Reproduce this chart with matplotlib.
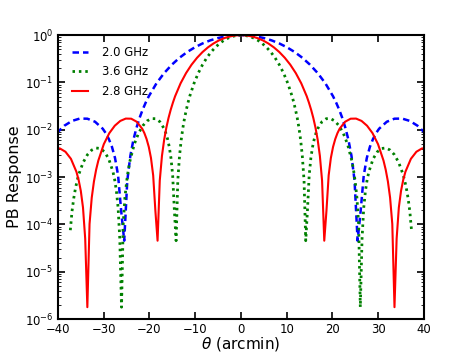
import numpy as np
import matplotlib
matplotlib.use("Agg")
import matplotlib.pyplot as plt
from matplotlib.ticker import LogLocator, NullFormatter, FixedLocator

# ---- data (theta >= 0 half; the curves are symmetric) ----
theta_2p8 = [0.0, 1.20, 2.40, 3.60, 4.80, 5.99, 7.19, 8.39, 9.59, 10.79, 11.99,
             13.19, 14.39, 14.86, 15.34, 15.82, 16.30, 16.78, 17.26, 17.74,
             18.22, 18.70, 19.18, 19.66, 20.14, 20.62, 21.10, 21.58, 22.78,
             23.98, 25.17, 26.37, 27.57, 28.77, 29.97, 31.17, 31.65, 32.13,
             32.61, 33.09, 33.57, 34.04, 34.52, 35.00, 35.48, 35.96, 37.16,
             38.36, 39.56, 40.76]
resp_2p8 = [1.0, 0.9844, 0.9391, 0.8673, 0.7748, 0.6674, 0.5534, 0.4397, 0.3326,
            0.2376, 0.1581, 0.09599, 0.05109, 0.03769, 0.02668, 0.01788,
            0.01111, 0.006163, 0.002813, 0.0008467, 4.54e-5, 0.0001956,
            0.001090, 0.002537, 0.004353, 0.006372, 0.008498, 0.01055,
            0.01481, 0.01717, 0.01727, 0.01541, 0.01221, 0.008507, 0.004979,
            0.002239, 0.001436, 0.0008104, 0.0003680, 0.0001024, 1.79e-6,
            5.02e-5, 0.0002276, 0.0005114, 0.0008763, 0.001300, 0.002440,
            0.003440, 0.004034, 0.004129]

theta_2p0 = [0.0, 1.68, 3.36, 5.03, 6.71, 8.39, 10.07, 11.75, 13.43, 15.10,
             16.78, 18.46, 20.14, 20.81, 21.48, 22.15, 22.82, 23.50, 24.17,
             24.84, 25.51, 26.18, 26.85, 27.52, 28.19, 28.87, 29.54, 30.21,
             31.89, 33.57, 35.24, 36.92, 38.60, 40.28]
resp_2p0 = [1.0, 0.9844, 0.9391, 0.8673, 0.7748, 0.6674, 0.5534, 0.4397, 0.3326,
            0.2376, 0.1581, 0.09599, 0.05109, 0.03769, 0.02668, 0.01788,
            0.01111, 0.006163, 0.002813, 0.0008467, 4.54e-5, 0.0001956,
            0.001090, 0.002537, 0.004353, 0.006372, 0.008498, 0.01055,
            0.01481, 0.01717, 0.01727, 0.01541, 0.01221, 0.008507]

theta_3p6 = [0.0, 0.93, 1.86, 2.80, 3.73, 4.66, 5.59, 6.53, 7.46, 8.39, 9.32,
             10.25, 11.19, 11.56, 11.93, 12.31, 12.68, 13.05, 13.42, 13.80,
             14.17, 14.54, 14.92, 15.29, 15.66, 16.03, 16.41, 16.78, 17.71,
             18.65, 19.58, 20.51, 21.44, 22.37, 23.31, 24.24, 24.61, 24.98,
             25.36, 25.73, 26.10, 26.48, 26.85, 27.22, 27.59, 27.97, 28.90,
             29.83, 30.76, 31.70, 32.63, 33.56, 34.49, 35.43, 35.80, 36.17,
             36.54, 36.92, 37.29]
resp_3p6 = [1.0, 0.9844, 0.9391, 0.8673, 0.7748, 0.6674, 0.5534, 0.4397, 0.3326,
            0.2376, 0.1581, 0.09599, 0.05109, 0.03769, 0.02668, 0.01788,
            0.01111, 0.006163, 0.002813, 0.0008467, 4.54e-5, 0.0001956,
            0.001090, 0.002537, 0.004353, 0.006372, 0.008498, 0.01055,
            0.01481, 0.01717, 0.01727, 0.01541, 0.01221, 0.008507, 0.004979,
            0.002239, 0.001436, 0.0008104, 0.0003680, 0.0001024, 1.79e-6,
            5.02e-5, 0.0002276, 0.0005114, 0.0008763, 0.001300, 0.002440,
            0.003440, 0.004034, 0.004129, 0.003725, 0.002972, 0.002042,
            0.001153, 0.0008460, 0.0005789, 0.0003592, 0.0001909, 7.57e-5]

labels = ["2.0 GHz", "3.6 GHz", "2.8 GHz"]
xticks = [-40, -30, -20, -10, 0, 10, 20, 30, 40]


def mirror(t, r):
    t = np.asarray(t, float)
    r = np.asarray(r, float)
    return np.concatenate([-t[:0:-1], t]), np.concatenate([r[:0:-1], r])


plt.rcParams['font.family'] = ['DejaVu Sans']
plt.rcParams['mathtext.fontset'] = 'dejavusans'

fig = plt.figure(figsize=(4.71, 3.55), dpi=100)
ax = fig.add_axes([0.123, 0.101, 0.777, 0.800])

x, y = mirror(theta_2p0, resp_2p0)
ax.plot(x, y, color='#0000ff', lw=1.8, dashes=(2.6, 1.6), label=labels[0])
x, y = mirror(theta_3p6, resp_3p6)
ax.plot(x, y, color='#008000', lw=2.0, dashes=(0.9, 1.4), label=labels[1])
x, y = mirror(theta_2p8, resp_2p8)
ax.plot(x, y, color='#ff0000', lw=1.5, label=labels[2])

ax.set_yscale('log')
ax.set_xlim(-40, 40)
ax.set_ylim(1e-6, 1)
ax.xaxis.set_major_locator(FixedLocator(xticks))
ax.yaxis.set_major_locator(LogLocator(base=10, numticks=10))
ax.yaxis.set_minor_locator(LogLocator(base=10, subs=np.arange(2, 10), numticks=20))
ax.yaxis.set_minor_formatter(NullFormatter())

ax.tick_params(which='both', direction='in', top=True, right=True, labelsize=8.4)
ax.tick_params(axis='x', pad=3)
ax.tick_params(axis='y', pad=3.5)
ax.tick_params(which='major', length=5, width=1.2)
ax.tick_params(which='minor', length=2.5, width=0.6)
for s in ax.spines.values():
    s.set_linewidth(1.5)

ax.set_xlabel(r'$\theta$ (arcmin)', fontsize=11)
ax.set_ylabel('PB Response', fontsize=11.5)
ax.xaxis.set_label_coords(0.5, -0.056)
ax.yaxis.set_label_coords(-0.097, 0.5)

ax.legend(loc='upper left', bbox_to_anchor=(0.026, 0.978), borderaxespad=0,
          frameon=False, fontsize=8.4, handlelength=1.4, handletextpad=1.2,
          labelspacing=0.55, borderpad=0.4)

fig.savefig('out.png', dpi=100)
